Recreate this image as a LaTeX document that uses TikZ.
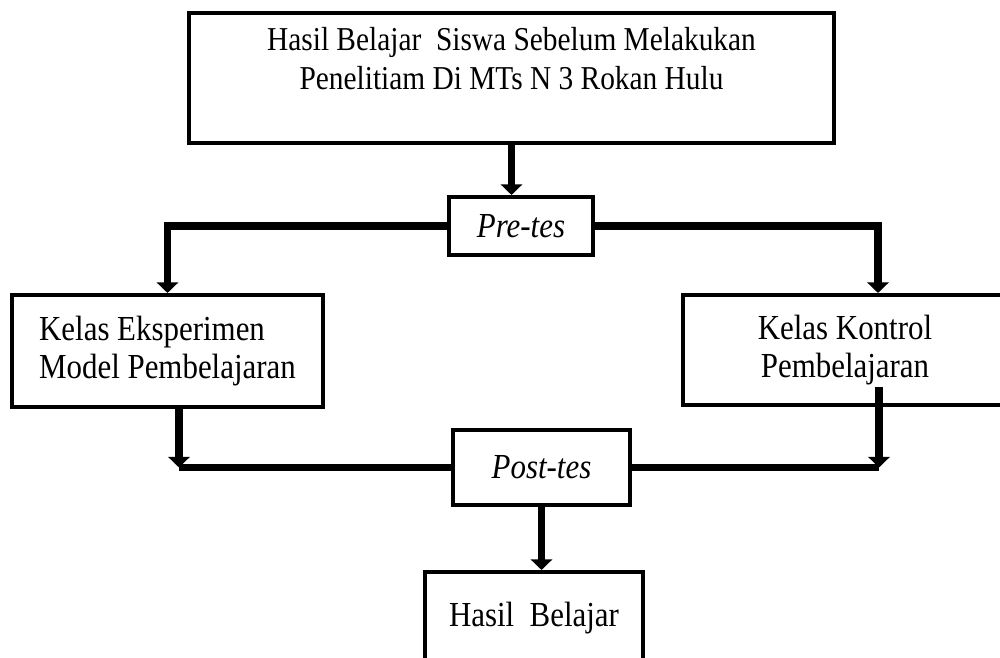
\documentclass[tikz,border=0pt]{standalone}
\usepackage{fontspec}
\setmainfont{Liberation Serif}[FakeStretch=0.88]
\usetikzlibrary{arrows.meta}

\begin{document}
\begin{tikzpicture}[x=0.02cm,y=-0.02cm,
        box/.style={draw,rectangle,line width=2.3pt,inner sep=0pt,
            font=\fontsize{20}{22}\selectfont},
        conn/.style={line width=4pt},
        arr/.style={conn,-{Triangle[length=6pt,width=12pt]}}]
	\useasboundingbox (0,0) rectangle (1000,658);
 \node[box,align=center,minimum width=12.9cm,minimum height=2.6cm,font=\fontsize{19}{22}\selectfont] (awal) at (511.5,78) {Hasil Belajar\ \ Siswa Sebelum Melakukan\\Penelitiam Di MTs N 3 Rokan Hulu\\[0pt]\mbox{}};
 \node[box,minimum width=2.88cm,minimum height=1.16cm] (pre) at (521,226) {\textit{Pre-tes}};
 \node[box,align=left,minimum width=6.22cm,minimum height=2.24cm] (eks) at (167.5,351) {Kelas Eksperimen\\Model Pembelajaran};
 \node[box,align=center,minimum width=6.48cm,minimum height=2.2cm] (kon) at (845,350) {Kelas Kontrol\\Pembelajaran};
 \node[box,minimum width=3.54cm,minimum height=1.5cm] (post) at (541.5,467.5) {\textit{Post-tes}};
 \node[box,minimum width=4.36cm,minimum height=1.84cm] (hasil) at (534,618) {Hasil\ \ Belajar};

\coordinate (eksturun) at ([xshift=0.23cm]eks.south |- post.west);
\coordinate (konturun) at ([xshift=0.68cm]kon.south |- post.east);

\draw[arr] (awal.south) -- (awal.south |- pre.north);
\draw[arr] (pre.west) -| (eks.north);
\draw[arr] (pre.east) -| ([xshift=0.66cm]kon.north);
\draw[arr] ([xshift=0.23cm]eks.south) -- (eksturun);
\draw[conn] (eksturun) -- (post.west);
\draw[arr] ([xshift=0.68cm,yshift=0.4cm]kon.south) -- (konturun);
\draw[conn] (konturun) -- (post.east);
\draw[arr] (post.south) -- (post.south |- hasil.north);

\end{tikzpicture}
\end{document}
